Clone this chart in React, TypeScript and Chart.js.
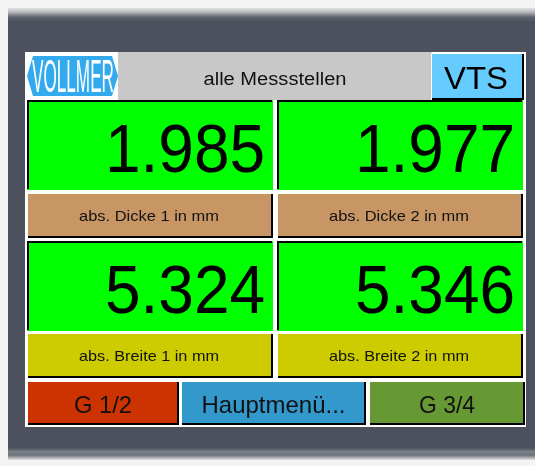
import { useEffect, useRef } from "react";
import { Chart, registerables } from "chart.js";

Chart.register(...registerables);

const TITLE = "alle Messstellen";
const BRAND = "VOLLMER";
const SYSTEM = "VTS";
const READINGS = [1.985, 1.977, 5.324, 5.346];
const LABELS = ["abs. Dicke 1 in mm", "abs. Dicke 2 in mm", "abs. Breite 1 in mm", "abs. Breite 2 in mm"];
const BUTTONS = ["G 1/2", "Hauptmenü...", "G 3/4"];

const FONT = "'Liberation Sans', Arial, sans-serif";

function raised(ctx: CanvasRenderingContext2D, x: number, y: number, w: number, h: number, fill: string) {
  ctx.fillStyle = fill;
  ctx.fillRect(x, y, w, h);
  ctx.fillStyle = "#fffff4";
  ctx.fillRect(x, y, w, 1);
  ctx.fillRect(x, y, 1, h);
  ctx.fillStyle = "#000";
  ctx.fillRect(x + w - 2, y + 1, 2, h - 1);
  ctx.fillRect(x + 1, y + h - 2, w - 1, 2);
}

function sunken(ctx: CanvasRenderingContext2D, x: number, y: number, w: number, h: number, fill: string) {
  ctx.fillStyle = fill;
  ctx.fillRect(x, y, w, h);
  ctx.fillStyle = "#000";
  ctx.fillRect(x, y, w - 1, 2);
  ctx.fillRect(x, y, 2, h - 1);
}

function stretchText(
  ctx: CanvasRenderingContext2D,
  text: string,
  x: number,
  y: number,
  size: number,
  targetW: number,
  align: "center" | "right" | "left",
  color = "#000",
  weight = "normal"
) {
  ctx.save();
  ctx.font = `${weight} ${size}px ${FONT}`;
  const w = ctx.measureText(text).width;
  const s = targetW / w;
  ctx.translate(x, y);
  ctx.scale(s, 1);
  ctx.fillStyle = color;
  ctx.textBaseline = "alphabetic";
  ctx.textAlign = align;
  ctx.fillText(text, 0, 0);
  ctx.restore();
}

export default function App() {
  const ref = useRef<HTMLCanvasElement>(null);

  useEffect(() => {
    document.body.style.margin = "0";
    const canvas = ref.current;
    if (!canvas) return;

    const hmi = {
      id: "hmi",
      afterDraw(chart: Chart) {
        const ctx = chart.ctx;
        ctx.save();
        // page background
        ctx.fillStyle = "#f4f4f4";
        ctx.fillRect(0, 0, 535, 466);
        // device frame
        const g = ctx.createLinearGradient(0, 8, 0, 22);
        g.addColorStop(0, "#e2e2e2");
        g.addColorStop(0.3, "#b4b7bc");
        g.addColorStop(0.65, "#5d626d");
        g.addColorStop(1, "#4c515d");
        ctx.fillStyle = g;
        ctx.fillRect(8, 8, 527, 14);
        ctx.fillStyle = "#4c515d";
        ctx.fillRect(8, 22, 527, 428);
        const gb = ctx.createLinearGradient(0, 448, 0, 460);
        gb.addColorStop(0, "#4c515d");
        gb.addColorStop(0.3, "#7a7f88");
        gb.addColorStop(0.6, "#6c717a");
        gb.addColorStop(1, "#e6e6e6");
        ctx.fillStyle = gb;
        ctx.fillRect(8, 448, 527, 12);

        // screen
        ctx.fillStyle = "#ffffff";
        ctx.fillRect(25, 52, 501, 375);

        // title bar
        ctx.fillStyle = "#c8c8c8";
        ctx.fillRect(118, 52, 314, 48);
        stretchText(ctx, TITLE, 275, 85, 18, 143, "center", "#111");

        // logo
        ctx.fillStyle = "#33aaee";
        ctx.beginPath();
        ctx.moveTo(27, 76);
        ctx.lineTo(33, 56);
        ctx.lineTo(112, 56);
        ctx.lineTo(118, 76);
        ctx.lineTo(112, 96);
        ctx.lineTo(33, 96);
        ctx.closePath();
        ctx.fill();
        stretchText(ctx, BRAND, 73, 92, 46, 82, "center", "#ffffff");

        // VTS
        raised(ctx, 431, 53, 93, 47, "#66ccff");
        stretchText(ctx, SYSTEM, 476, 89, 31, 64, "center", "#000");

        // readings
        const colX = [27, 277];
        const rows = [
          { tile: 100, label: 193, labelColor: "#c89664" },
          { tile: 241, label: 333, labelColor: "#cccc00" },
        ];
        READINGS.forEach((v, i) => {
          const r = rows[Math.floor(i / 2)];
          const x = colX[i % 2];
          sunken(ctx, x, r.tile, 246, 90, "#00ff00");
          const txt = v.toFixed(3);
          ctx.save();
          ctx.font = `69px ${FONT}`;
          ctx.fillStyle = "#000";
          ctx.textAlign = "right";
          ctx.fillText(txt, x + 238, r.tile + 72, 160);
          ctx.restore();
          raised(ctx, x, r.label, 246, 45, r.labelColor);
          stretchText(ctx, LABELS[i], x + 122, r.label + 28, 15, 140, "center", "#111");
        });

        // buttons
        const btn = [
          { x: 27, w: 152, c: "#cc3300", tw: 58 },
          { x: 181, w: 185, c: "#3399cc", tw: 144 },
          { x: 369, w: 156, c: "#669933", tw: 56 },
        ];
        BUTTONS.forEach((b, i) => {
          const s = btn[i];
          raised(ctx, s.x, 381, s.w, 44, s.c);
          stretchText(ctx, b, s.x + s.w / 2, 413, 24, s.tw, "center", "#111");
        });
        ctx.restore();
      },
    };

    const chart = new Chart(canvas, {
      type: "bar",
      data: {
        labels: LABELS,
        datasets: [{ data: READINGS, backgroundColor: "transparent" }],
      },
      options: {
        animation: false,
        responsive: false,
        events: [],
        plugins: { legend: { display: false }, tooltip: { enabled: false } },
        scales: { x: { display: false }, y: { display: false } },
      },
      plugins: [hmi],
    });
    return () => chart.destroy();
  }, []);

  return (
    <div style={{ width: 535, height: 466 }}>
      <canvas ref={ref} width={535} height={466} style={{ display: "block" }} />
    </div>
  );
}
